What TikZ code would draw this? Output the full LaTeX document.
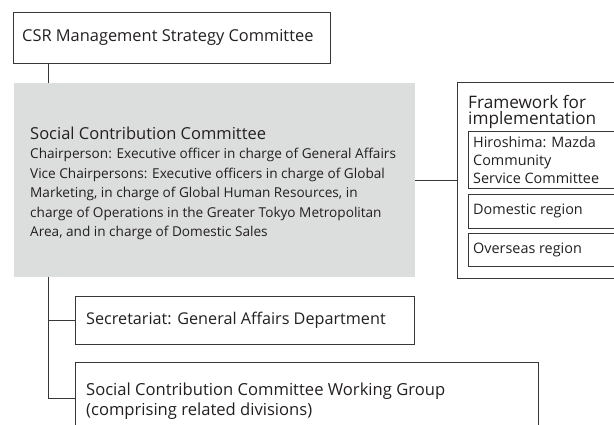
\documentclass[tikz,border=0pt]{standalone}
\usepackage{fontspec}
\setmainfont{Open Sans}
\definecolor{linec}{HTML}{3A3536}
\definecolor{txt}{HTML}{231F20}
\definecolor{greyfill}{HTML}{DCDDDD}
\tikzset{
  box/.style={draw=linec, line width=0.8pt, anchor=north west, inner sep=0pt, minimum width=#1},
  gbox/.style={fill=greyfill, draw=none, anchor=north west, inner sep=0pt, minimum width=#1},
  lbl/.style={anchor=west, inner sep=0pt, text=txt, align=left},
  conn/.style={draw=linec, line width=0.8pt},
}
\begin{document}
\begin{tikzpicture}[x=1pt,y=-1pt]
\useasboundingbox (0,0) rectangle (614,425);
\clip (0,0) rectangle (614,425);
% CSR
\node[box=317pt, minimum height=51pt] (csr) at (13,12) {};
\node[lbl, font=\fontsize{16.4}{19}\selectfont] (csrt) at ([xshift=9pt]csr.west) {CSR Management Strategy Committee};
% grey committee
\node[gbox=401pt, minimum height=194pt] (scc) at (14,83) {};
\node[lbl, font=\fontsize{13.6}{19.5}\selectfont] (scct) at ([xshift=16pt,yshift=-3pt]scc.west) {{\fontsize{16.5}{19.5}\selectfont Social Contribution Committee}\\[0pt]
Chairperson: Executive officer in charge of General Affairs\\
Vice Chairpersons: Executive officers in charge of Global\\
Marketing, in charge of Global Human Resources, in\\
charge of Operations in the Greater Tokyo Metropolitan\\
Area, and in charge of Domestic Sales};
% framework
\node[box=170pt, minimum height=196pt] (fw) at (457,82) {};
\node[lbl, anchor=north west, font=\fontsize{17.2}{16}\selectfont] (fwt) at ([xshift=11pt,yshift=-13pt]fw.north west) {Framework for\\implementation};
\node[box=160pt, minimum height=57pt] (hir) at (468,131) {};
\node[lbl, font=\fontsize{14.4}{18}\selectfont] (hirt) at ([xshift=5pt,yshift=-0.5pt]hir.west) {Hiroshima: Mazda\\Community\\Service Committee};
\node[box=160pt, minimum height=34pt] (dom) at (468,194) {};
\node[lbl, font=\fontsize{14.4}{18}\selectfont] (domt) at ([xshift=5pt]dom.west) {Domestic region};
\node[box=160pt, minimum height=33pt] (ovs) at (468,233) {};
\node[lbl, font=\fontsize{14.4}{18}\selectfont] (ovst) at ([xshift=5pt]ovs.west) {Overseas region};
% secretariat
\node[box=339pt, minimum height=48pt] (sec) at (75,296) {};
\node[lbl, font=\fontsize{16.2}{19}\selectfont] (sect) at ([xshift=11pt]sec.west) {Secretariat: General Affairs Department};
% working group
\node[box=463pt, minimum height=80pt] (wg) at (75,362) {};
\node[lbl, anchor=north west, font=\fontsize{16.6}{19.5}\selectfont] (wgt) at ([xshift=11pt,yshift=-21pt]wg.north west) {Social Contribution Committee Working Group\\(comprising related divisions)};
% connectors
\coordinate (top) at (48,63);
\draw[conn] (csr.south west -| top) -- (scc.north west -| top);
\coordinate (b1) at (48,277);
\coordinate (b2) at (48,398);
\draw[conn] (b1) -- (b2) -- (b2 -| wg.west);
\draw[conn] (sec.west -| b1) -- (sec.west);
\draw[conn] (scc.east |- fw.west) -- (fw.west);
\end{tikzpicture}
\end{document}
